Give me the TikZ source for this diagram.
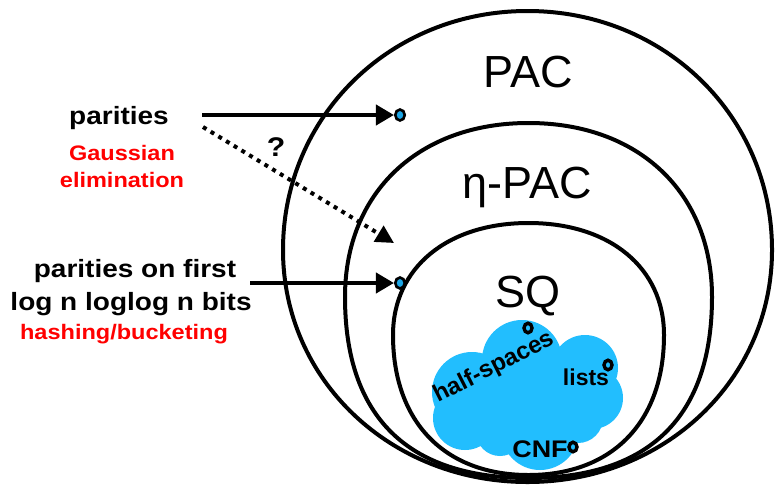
\documentclass[tikz,border=0pt]{standalone}
\usepackage{fontspec}
\setmainfont{Liberation Sans}
\newfontfamily\wide[FakeStretch=1.12]{Liberation Sans}
\usetikzlibrary{arrows.meta,shapes.geometric}
\definecolor{cloudblue}{RGB}{34,190,254}
\definecolor{dotblue}{RGB}{28,166,230}
\definecolor{notered}{RGB}{255,0,0}

% egg-shaped class outline: centre x, centre y, half width,
% upper height, lower height, upper and lower roundness factors
\newcommand\eggdraw[7]{%
  \draw[classline] (#1-#3,#2)
    .. controls (#1-#3,#2-#6*#4) and (#1-#6*#3,#2-#4) .. (#1,#2-#4)
    .. controls (#1+#6*#3,#2-#4) and (#1+#3,#2-#6*#4) .. (#1+#3,#2)
    .. controls (#1+#3,#2+#7*#5) and (#1+#7*#3,#2+#5) .. (#1,#2+#5)
    .. controls (#1-#7*#3,#2+#5) and (#1-#3,#2+#7*#5) .. (#1-#3,#2) -- cycle;}

\begin{document}
\begin{tikzpicture}[x=1pt,y=-1pt,
  ring/.style={ellipse, draw, line width=3.4pt, fill=cloudblue, inner sep=0pt,
    minimum width=8pt, minimum height=9.5pt},
  bluedot/.style={ellipse, draw, line width=2.6pt, fill=dotblue, inner sep=0pt,
    minimum width=9.5pt, minimum height=11pt},
  classline/.style={line width=4pt},
  arr/.style={line width=4pt, -{Triangle[length=18pt,width=20pt]}},
  dotarr/.style={line width=4pt, dash pattern=on 4pt off 5pt,
    -{Triangle[length=18pt,width=18pt]}},
  bigtxt/.style={font=\fontsize{45}{54}\selectfont, anchor=base, inner sep=0pt},
  lefttxt/.style={font=\wide\bfseries\fontsize{25}{30}\selectfont, anchor=base, inner sep=0pt},
  redtxt/.style={font=\wide\bfseries\fontsize{21}{25}\selectfont, text=notered,
    anchor=base, inner sep=0pt},
  cloudtxt/.style={font=\bfseries\fontsize{#1}{28}\selectfont, anchor=base, inner sep=0pt},
]
\useasboundingbox (0,0) rectangle (775,485);
\fill[white] (0,0) rectangle (775,485);

% nested classes
\eggdraw{527.5}{250}{244.5}{239}{232}{0.56}{0.56}
\eggdraw{528.5}{297}{183.5}{174}{181}{0.6}{0.66}
\eggdraw{528.5}{335}{135.5}{112}{140}{0.6}{0.62}

% cloud of SQ-learnable classes
\fill[cloudblue]
  (472,392) circle [radius=40]
  (522,360) circle [radius=40]
  (585,368) circle [radius=33]
  (592,398) circle [radius=31]
  (465,418) circle [radius=32]
  (540,431) circle [radius=39]
  (500,432) circle [radius=24]
  (578,418) circle [radius=25]
  (530,395) circle [radius=50];

% class names
\node[bigtxt] (pac) at (528,87) {PAC};
\node[bigtxt] (etapac) at (527,198) {η-PAC};
\node[bigtxt] (sq) at (528,307) {SQ};

% cloud members
\node[cloudtxt=24, rotate=27] (hs) at (497,373) {half-spaces};
\node[cloudtxt=23] (lists) at (586,385) {lists};
\node[cloudtxt=24, font=\wide\bfseries\fontsize{24}{28}\selectfont] (cnf) at (540,457) {CNF};
\node[ring] (hsm) at (528,328) {};
\node[ring] (lim) at (608,365) {};
\node[ring] (cnfm) at (573,447) {};

% problems on the left
\node[lefttxt] (par) at (119,124) {parities};
\node[redtxt] (gauss) at (122,160) {Gaussian};
\node[redtxt] (elim) at (122,187) {elimination};
\node[lefttxt] (pof1) at (135,277) {parities on first};
\node[lefttxt] (pof2) at (131,310) {log n loglog n bits};
\node[redtxt] (hash) at (124,339) {hashing/bucketing};

% arrows into the classes
\node[bluedot] (d1) at (400,115) {};
\node[bluedot] (d2) at (400,283) {};
\coordinate (s1) at (202,115);
\coordinate (s2) at (250,283);
\coordinate (s3) at (203,127);
\coordinate (q) at (394,243);
\draw[arr] (s1) -- (d1.west);
\draw[arr] (s2) -- (d2.west);
\draw[dotarr] (s3) -- (q);
\node[font=\wide\bfseries\fontsize{27}{30}\selectfont, inner sep=0pt] (qm) at (276,147) {?};
\end{tikzpicture}
\end{document}
